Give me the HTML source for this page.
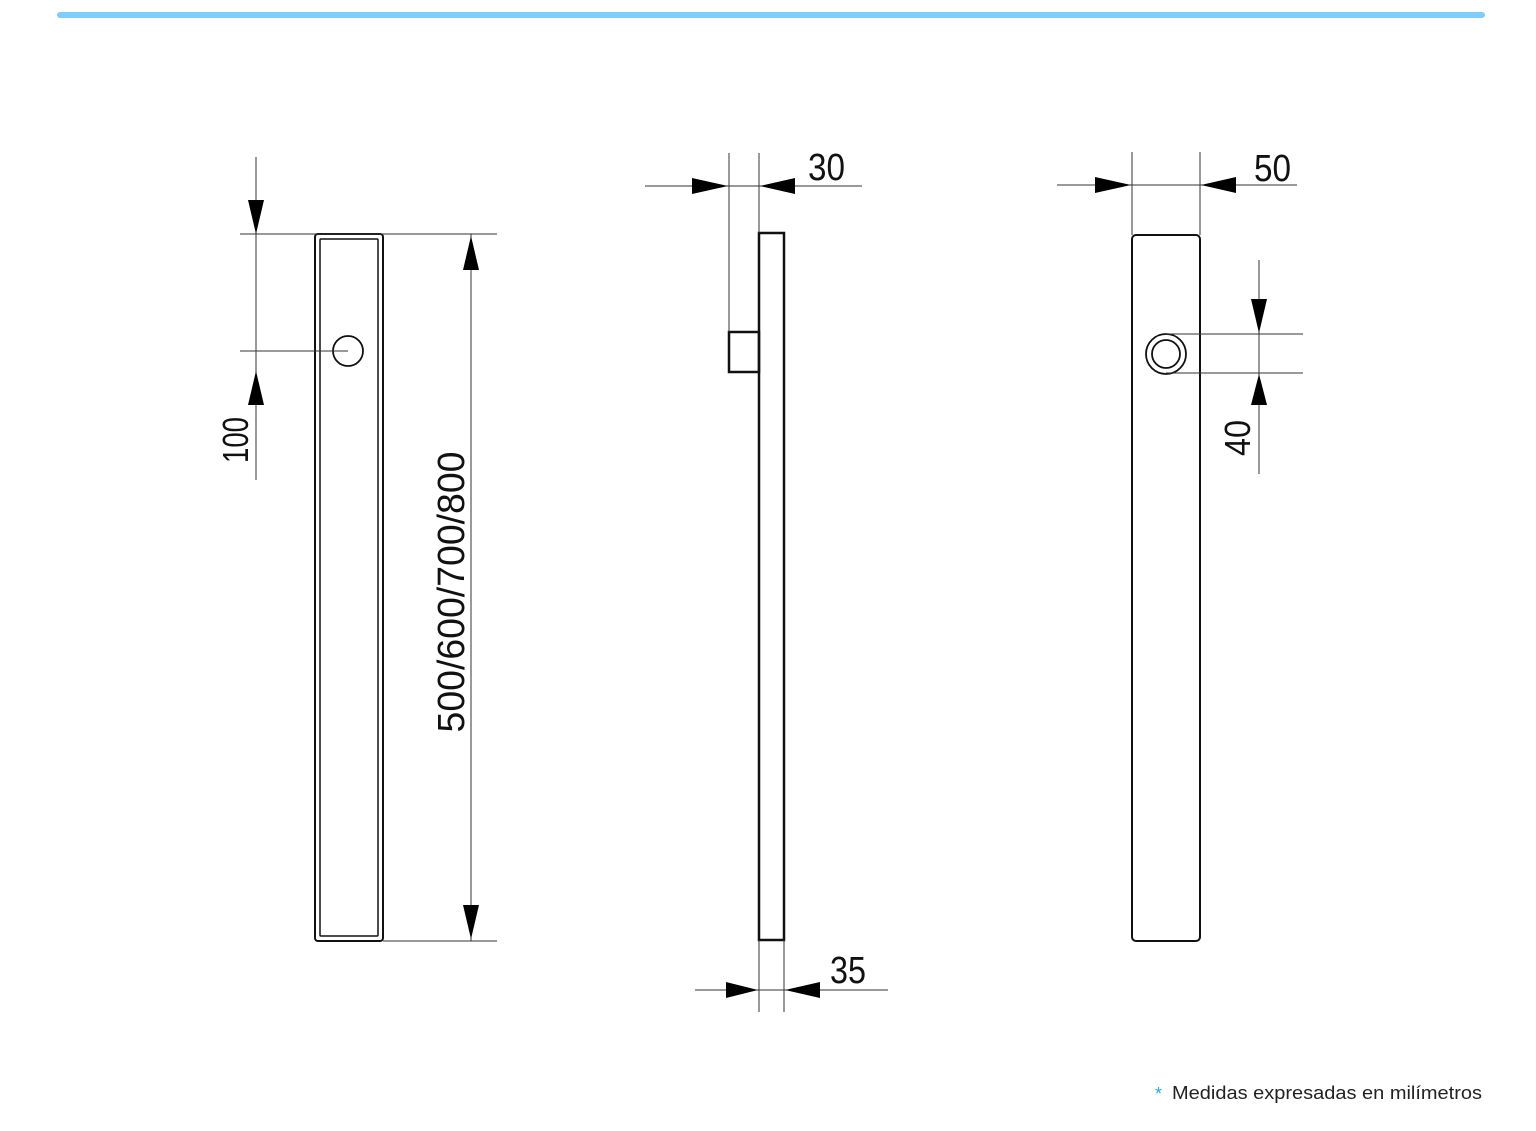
<!DOCTYPE html>
<html><head><meta charset="utf-8"><style>
html,body{margin:0;padding:0;background:#fff;}
svg{display:block;}
text{font-family:"Liberation Sans",sans-serif;fill:#111;}
</style></head><body>
<svg width="1536" height="1131" viewBox="0 0 1536 1131" xmlns="http://www.w3.org/2000/svg">
<line x1="60" y1="15" x2="1482" y2="15" stroke="#7fcdfb" stroke-width="6" stroke-linecap="round"/>

<!-- View 1 -->
<g fill="none" stroke="#111">
<rect x="315" y="234" width="68" height="707" rx="3" stroke-width="2"/>
<rect x="320" y="239" width="58" height="697" rx="1" stroke-width="1.5"/>
<circle cx="348" cy="351" r="15" stroke-width="1.8"/>
</g>
<g stroke="#333" stroke-width="1">
<line x1="240" y1="351" x2="348" y2="351"/>
<line x1="256" y1="157" x2="256" y2="480"/>
<line x1="240" y1="234" x2="497" y2="234"/>
<line x1="383" y1="941" x2="497" y2="941"/>
<line x1="471" y1="234" x2="471" y2="941"/>
</g>
<g fill="#000">
<polygon points="248,200 264,200 256,234"/>
<polygon points="248,405 264,405 256,371"/>
<polygon points="463,270 479,270 471,236"/>
<polygon points="463,905 479,905 471,939"/>
</g>
<text transform="translate(248,440) rotate(-90)" font-size="36" text-anchor="middle" textLength="46" lengthAdjust="spacingAndGlyphs">100</text>
<text transform="translate(464,592) rotate(-90)" font-size="38" text-anchor="middle" textLength="281" lengthAdjust="spacingAndGlyphs">500/600/700/800</text>

<!-- View 2 -->
<g fill="none" stroke="#111" stroke-width="2.5">
<rect x="759" y="233" width="25" height="707"/>
<rect x="729" y="332" width="30" height="40"/>
</g>
<g stroke="#333" stroke-width="1">
<line x1="729" y1="153" x2="729" y2="332"/>
<line x1="759" y1="153" x2="759" y2="233"/>
<line x1="645" y1="186" x2="862" y2="186"/>
<line x1="759" y1="940" x2="759" y2="1012"/>
<line x1="784" y1="940" x2="784" y2="1012"/>
<line x1="695" y1="990" x2="888" y2="990"/>
</g>
<g fill="#000">
<polygon points="692,178 692,194 728,186"/>
<polygon points="795,178 795,194 760,186"/>
<polygon points="726,982 726,998 758,990"/>
<polygon points="820,982 820,998 785,990"/>
</g>
<text x="808" y="180" font-size="38" textLength="37" lengthAdjust="spacingAndGlyphs">30</text>
<text x="830" y="983" font-size="38" textLength="36" lengthAdjust="spacingAndGlyphs">35</text>

<!-- View 3 -->
<g fill="none" stroke="#111">
<rect x="1132" y="235" width="68" height="706" rx="4" stroke-width="2"/>
<circle cx="1166" cy="354" r="20" stroke-width="1.8"/>
<circle cx="1166" cy="354" r="14" stroke-width="1.8"/>
</g>
<g stroke="#333" stroke-width="1">
<line x1="1132" y1="152" x2="1132" y2="235"/>
<line x1="1200" y1="152" x2="1200" y2="235"/>
<line x1="1057" y1="185" x2="1297" y2="185"/>
<line x1="1166" y1="334" x2="1303" y2="334"/>
<line x1="1166" y1="373" x2="1303" y2="373"/>
<line x1="1259" y1="260" x2="1259" y2="474"/>
</g>
<g fill="#000">
<polygon points="1095,177 1095,193 1131,185"/>
<polygon points="1236,177 1236,193 1201,185"/>
<polygon points="1251,299 1267,299 1259,333"/>
<polygon points="1251,405 1267,405 1259,374"/>
</g>
<text x="1254" y="181" font-size="38" textLength="37" lengthAdjust="spacingAndGlyphs">50</text>
<text transform="translate(1250,438) rotate(-90)" font-size="36" text-anchor="middle" textLength="36" lengthAdjust="spacingAndGlyphs">40</text>

<!-- footnote -->
<text x="1155" y="1100" font-size="18" fill="#2aa8e0" style="fill:#2aa8e0">*</text>
<text x="1172" y="1099" font-size="18" textLength="310" lengthAdjust="spacingAndGlyphs" style="fill:#222">Medidas expresadas en milímetros</text>
</svg>
</body></html>
